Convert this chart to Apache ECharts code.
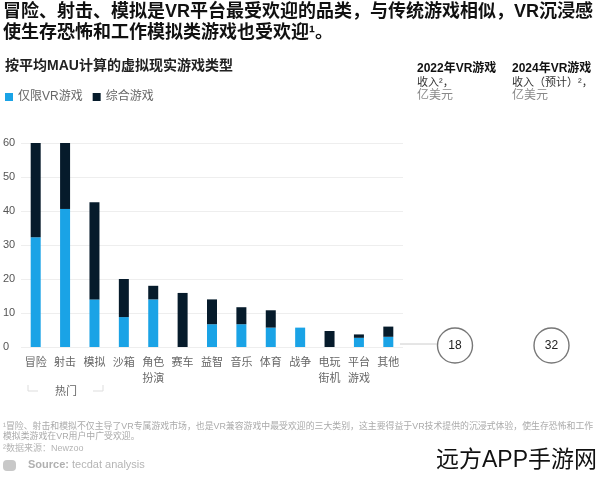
<!DOCTYPE html>
<html>
<head>
<meta charset="utf-8">
<script src="https://cdn.jsdelivr.net/npm/echarts@6/dist/echarts.min.js"></script>
<style>html,body{margin:0;padding:0;background:#fff;}#c{width:600px;height:478px;}</style>
</head>
<body>
<div id="c"></div>
<script>
const categories = ['冒险','射击','模拟','沙箱','角色\n扮演','赛车','益智','音乐','体育','战争','电玩\n街机','平台\n游戏','其他'];
const vrOnly = [32.3, 40.6, 14.0, 8.8, 14.0, 0, 6.7, 6.7, 5.7, 5.7, 0, 2.7, 3.0];
const mixed  = [27.7, 19.4, 28.6, 11.2, 4.0, 15.9, 7.3, 5.0, 5.1, 0, 4.7, 1.0, 3.0];
const seriesNames = ['仅限VR游戏', '综合游戏'];
const yTicks = {min: 0, max: 60, interval: 10};
const revenueLabels = [['2022年VR游戏', '收入²，', '亿美元'], ['2024年VR游戏', '收入（预计）²，', '亿美元']];
const revenueValues = [18, 32];

const FONT = "'Liberation Sans','Noto Sans CJK SC',sans-serif";
const BLUE = '#1aa3e6', NAVY = '#061b2b';

const chart = echarts.init(document.getElementById('c'));

const graphics = [
  {type:'text', left:3, top:2, style:{text:'冒险、射击、模拟是VR平台最受欢迎的品类，与传统游戏相似，VR沉浸感\n使生存恐怖和工作模拟类游戏也受欢迎¹。', font:'bold 18px '+FONT, fill:'#111', lineHeight:21}},
  {type:'text', left:5, top:59, style:{text:'按平均MAU计算的虚拟现实游戏类型', font:'bold 14px '+FONT, fill:'#222'}},
  // bracket for 热门
  {type:'polyline', shape:{points:[[28,385],[28,391],[38,391]]}, style:{stroke:'#ddd', lineWidth:1, fill:null}},
  {type:'polyline', shape:{points:[[93,391],[103,391],[103,385]]}, style:{stroke:'#ddd', lineWidth:1, fill:null}},
  {type:'text', x:66, y:392, style:{text:'热门', font:'11px '+FONT, fill:'#666', align:'center', verticalAlign:'middle'}},
  // connector line
  {type:'line', shape:{x1:400, y1:344, x2:437, y2:344}, style:{stroke:'#ccc', lineWidth:1}},
  // footnotes
  {type:'text', left:3, top:422, style:{text:'¹冒险、射击和模拟不仅主导了VR专属游戏市场，也是VR兼容游戏中最受欢迎的三大类别，这主要得益于VR技术提供的沉浸式体验，使生存恐怖和工作\n模拟类游戏在VR用户中广受欢迎。', font:'8.9px '+FONT, fill:'#aaa', lineHeight:9.5}},
  {type:'text', left:3, top:444, style:{text:'²数据来源：Newzoo', font:'9px '+FONT, fill:'#b5b5b5'}},
  {type:'rect', shape:{x:3, y:460, width:13, height:11, r:4}, style:{fill:'#c8c8c8'}},
  {type:'text', left:28, top:459, style:{text:'{b|Source:} tecdat analysis', font:'11px '+FONT, fill:'#b5b5b5', rich:{b:{fontWeight:'bold', fontSize:11, fill:'#b0b0b0'}}}},
  {type:'text', left:436, top:449, style:{text:'远方APP手游网', font:'23px '+FONT, fill:'#111'}}
];

const colX = [417, 512];
revenueLabels.forEach((lines, i) => {
  graphics.push({type:'text', left:colX[i], top:63, style:{
    text:'{a|'+lines[0]+'}\n{b|'+lines[1]+'}\n{c|'+lines[2]+'}',
    rich:{
      a:{fontFamily:FONT, fontWeight:'bold', fontSize:12, fill:'#111', lineHeight:13.5},
      b:{fontFamily:FONT, fontSize:11, fill:'#333', lineHeight:13.5},
      c:{fontFamily:FONT, fontSize:12, fill:'#888', lineHeight:13.5}
    }}});
});
const circX = [455, 551.5];
revenueValues.forEach((v, i) => {
  graphics.push({type:'circle', shape:{cx:circX[i], cy:345.5, r:17.5}, style:{fill:'#fff', stroke:'#777', lineWidth:1.4}});
  graphics.push({type:'text', x:circX[i], y:345.5, style:{text:String(v), font:'12px '+FONT, fill:'#222', align:'center', verticalAlign:'middle'}});
});

chart.setOption({
  animation:false,
  textStyle:{fontFamily:FONT},
  legend:{data:seriesNames, left:5, top:91, padding:0, icon:'rect', itemWidth:8, itemHeight:8, itemGap:10,
    textStyle:{fontSize:12, color:'#666', fontFamily:FONT}},
  grid:{left:21, top:143, width:382, height:204, containLabel:false},
  xAxis:{type:'category', data:categories, axisLine:{show:false}, axisTick:{show:false},
    axisLabel:{interval:0, margin:8, fontSize:11, lineHeight:16, color:'#666', fontFamily:FONT}},
  yAxis:{type:'value', min:yTicks.min, max:yTicks.max, interval:yTicks.interval,
    axisLine:{show:false}, axisTick:{show:false},
    axisLabel:{align:'left', margin:18, fontSize:11, color:'#555', fontFamily:FONT},
    splitLine:{lineStyle:{color:'#eee', width:1}}},
  series:[
    {name:seriesNames[0], type:'bar', stack:'s', data:vrOnly, barWidth:10, itemStyle:{color:BLUE}},
    {name:seriesNames[1], type:'bar', stack:'s', data:mixed, barWidth:10, itemStyle:{color:NAVY}}
  ],
  graphic:graphics
});
</script>
</body>
</html>
